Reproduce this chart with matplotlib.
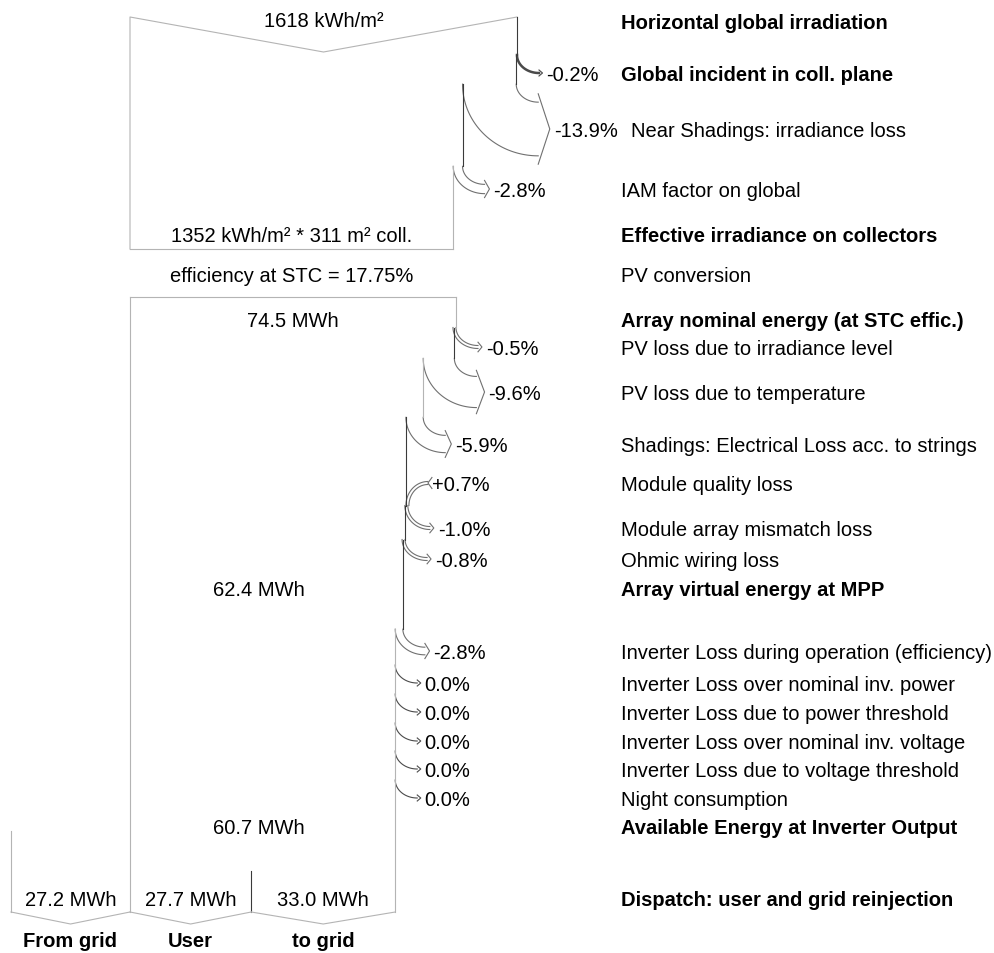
"""
PVsyst style loss diagram
"""
import numpy as np
from matplotlib import pyplot as plt

# Irradiation part (kWh/m²)
irradHoriz = 1618
irradEffective = 1352
collArea = 311
stcEfficiency = 17.75
irradLossNames = ["Global incident in coll. plane", "Near Shadings: irradiance loss", "IAM factor on global"]
irradLossPct = [-0.2, -13.9, -2.8]

# Array part (MWh)
arrayNominal = 74.5
arrayVirtual = 62.4
inverterOutput = 60.7
arrayLossNames = ["PV loss due to irradiance level", "PV loss due to temperature",
                  "Shadings: Electrical Loss acc. to strings", "Module quality loss",
                  "Module array mismatch loss", "Ohmic wiring loss"]
arrayLossPct = [-0.5, -9.6, -5.9, 0.7, -1.0, -0.8]
inverterLossNames = ["Inverter Loss during operation (efficiency)", "Inverter Loss over nominal inv. power",
                     "Inverter Loss due to power threshold", "Inverter Loss over nominal inv. voltage",
                     "Inverter Loss due to voltage threshold", "Night consumption"]
inverterLossPct = [-2.8, 0.0, 0.0, 0.0, 0.0, 0.0]

# Dispatch (MWh)
dispatchNames = ["From grid", "User", "to grid"]
dispatchValues = [27.2, 27.7, 33.0]

# Layout (pixels, y going down)
LEFT = 130
TOP_WIDTH = 387
ARRAY_WIDTH = 326
LABEL_X = 621
FS = 14.5
LIGHT = "#b4b4b4"
DARK = "#3a3a3a"
BEND = "#707070"
irradLossRows = [74, 130, 190]
arrayLossRows = [348, 393, 445, 484, 529, 560, 652, 684, 713, 742, 770, 799]
topSegColors = [DARK, DARK, DARK, LIGHT]
arraySegColors = [LIGHT, DARK, LIGHT, DARK, DARK, DARK, DARK, LIGHT, LIGHT, LIGHT, LIGHT, LIGHT, LIGHT]

plt.rcParams['font.family'] = ['Liberation Sans', 'DejaVu Sans']


def text(ax, x, y, s, bold=False, ha="left"):
    # y is the visual middle of the capitals
    ax.text(x, y + 7, s, fontsize=FS, ha=ha, va="baseline",
            fontweight="bold" if bold else "normal", color="black")


def bend(ax, xr, w, yLabel, gain=False, yStart=None):
    """Draws one loss (or gain) arrow leaving the right edge xr, returns (join y, text x)."""
    r, dx = 18, 22
    g = w if w >= 3 else (3 if w >= 1 else 0)
    if yStart is not None:
        # continue directly from the end of a gain arrow
        r = yLabel - g / 2 - yStart
    if gain:
        r = 24
    xa = xr + dx
    t = np.linspace(0, np.pi / 2, 60)
    if g == 0:
        col, lw = "#4a4a4a", 0.8 + 1.3 * w
    else:
        col, lw = BEND, 0.8
    if not gain:
        y0 = yLabel - r - g / 2
        ax.plot(xa - dx * np.cos(t), y0 + r * np.sin(t), color=col, lw=lw)
        if g > 0:
            ax.plot(xa - (dx + g) * np.cos(t), y0 + (r + g) * np.sin(t), color=col, lw=lw)
        a = 3 + 0.1 * g
        tip = 3.5 + 0.15 * g
        ax.plot([xa, xa + tip, xa], [y0 + r - a, yLabel, y0 + r + g + a], color=col, lw=0.8)
        return y0, xa + tip + 4
    yJoin = yLabel + r - g / 2
    ax.plot(xa - dx * np.cos(t), yJoin - r * np.sin(t), color=col, lw=lw)
    ax.plot(xa - (dx - g) * np.cos(t), yJoin - (r - g) * np.sin(t), color=col, lw=lw)
    ax.plot([xa + 4, xa, xa + 4], [yLabel - g / 2 - 4, yLabel, yLabel + g / 2 + 4], color=col, lw=0.8)
    return yJoin, xa + 4


def lossChain(ax, xStart, yStart, yEnd, pcts, rows, segColors):
    """Draws the right edge of a flow and all its losses, returns the final right edge."""
    x, y = xStart, yStart
    width = xStart - LEFT
    afterGain = False
    for i, (p, yl) in enumerate(zip(pcts, rows)):
        w = abs(p) / 100 * width
        yj, xt = bend(ax, x, w, yl, gain=p > 0, yStart=y if afterGain else None)
        ax.plot([x, x], [y, yj], color=segColors[i], lw=0.8)
        label = "%+.1f%%" % p if p != 0 else "0.0%"
        text(ax, xt, yl, label)
        afterGain = p > 0
        width = width * (1 + p / 100)
        x = LEFT + width
        y = yj
    ax.plot([x, x], [y, yEnd], color=segColors[len(pcts)], lw=0.8)
    return x


def main():
    fig = plt.figure(figsize=(9.95, 9.54), dpi=100)
    ax = fig.add_axes([0, 0, 1, 1])
    ax.set_xlim(0, 995)
    ax.set_ylim(954, 0)
    ax.axis("off")

    # Irradiation box
    irrScale = TOP_WIDTH / irradHoriz
    xTop = LEFT + irradHoriz * irrScale
    ax.plot([LEFT, LEFT, (LEFT + xTop) / 2, xTop], [250, 18, 53, 18], color=LIGHT, lw=0.8)
    xEff = lossChain(ax, xTop, 18, 250, irradLossPct, irradLossRows, topSegColors)
    ax.plot([LEFT, xEff], [250, 250], color=LIGHT, lw=0.8)
    text(ax, (LEFT + xTop) / 2, 20, "%d kWh/m²" % irradHoriz, ha="center")
    text(ax, (LEFT + xEff) / 2, 235, "%d kWh/m² * %d m² coll." % (irradEffective, collArea), ha="center")
    text(ax, (LEFT + xEff) / 2, 275, "efficiency at STC = %.2f%%" % stcEfficiency, ha="center")

    # Array / inverter box
    nrgScale = ARRAY_WIDTH / arrayNominal
    xArr = LEFT + arrayNominal * nrgScale
    ax.plot([LEFT, xArr], [298, 298], color=LIGHT, lw=0.8)
    ax.plot([LEFT, LEFT], [298, 913], color=LIGHT, lw=0.8)
    xOut = lossChain(ax, xArr, 298, 913, arrayLossPct + inverterLossPct, arrayLossRows, arraySegColors)
    text(ax, (LEFT + xArr) / 2, 320, "%.1f MWh" % arrayNominal, ha="center")
    text(ax, (LEFT + 403) / 2 - 8, 589, "%.1f MWh" % arrayVirtual, ha="center")
    text(ax, (LEFT + xOut) / 2 - 4, 827, "%.1f MWh" % inverterOutput, ha="center")

    # Dispatch
    xGrid = LEFT - dispatchValues[0] * nrgScale
    xUser = LEFT + dispatchValues[1] * nrgScale
    ax.plot([xGrid, xGrid], [832, 913], color=LIGHT, lw=0.8)
    ax.plot([xUser, xUser], [872, 913], color=DARK, lw=0.8)
    edges = [xGrid, LEFT, xUser, xOut]
    for i in range(3):
        xl, xr = edges[i], edges[i + 1]
        ax.plot([xl, (xl + xr) / 2, xr], [913, 925, 913], color=LIGHT, lw=0.8)
        text(ax, (xl + xr) / 2, 899, "%.1f MWh" % dispatchValues[i], ha="center")
        text(ax, (xl + xr) / 2, 940, dispatchNames[i], bold=True, ha="center")

    # Right hand labels
    for name, yl, b in zip(irradLossNames, irradLossRows, [True, False, False]):
        text(ax, LABEL_X + (10 if "Near" in name else 0), yl, name, bold=b)
    for name, yl in zip(arrayLossNames + inverterLossNames, arrayLossRows):
        text(ax, LABEL_X, yl, name)
    text(ax, LABEL_X, 22, "Horizontal global irradiation", bold=True)
    text(ax, LABEL_X, 235, "Effective irradiance on collectors", bold=True)
    text(ax, LABEL_X, 275, "PV conversion")
    text(ax, LABEL_X, 320, "Array nominal energy (at STC effic.)", bold=True)
    text(ax, LABEL_X, 589, "Array virtual energy at MPP", bold=True)
    text(ax, LABEL_X, 827, "Available Energy at Inverter Output", bold=True)
    text(ax, LABEL_X, 899, "Dispatch: user and grid reinjection", bold=True)

    plt.savefig("out.png", dpi=100)
    plt.close()


if (__name__ == "__main__"):
    main()
